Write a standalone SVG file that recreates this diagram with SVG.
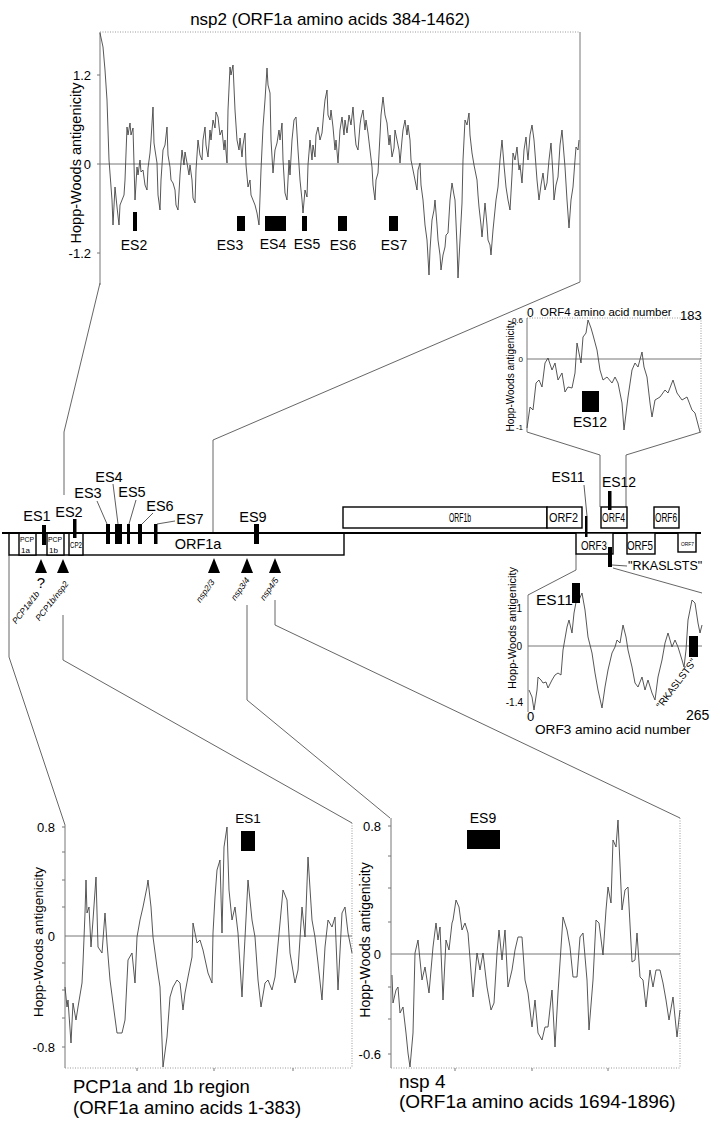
<svg xmlns="http://www.w3.org/2000/svg" width="723" height="1125" viewBox="0 0 723 1125">
<style>
.t{font-family:"Liberation Sans",Arial,sans-serif;fill:#000}
.ti{font-family:"Liberation Sans",Arial,sans-serif;font-style:italic;fill:#000;font-size:8.5px}
.curve{fill:none;stroke:#444;stroke-width:0.9;stroke-linejoin:round}
.axis{fill:none;stroke:#777;stroke-width:1}
.dot{fill:none;stroke:#999;stroke-width:1;stroke-dasharray:1 1.5}
.conn{fill:none;stroke:#555;stroke-width:0.9}
.box{fill:#fff;stroke:#000;stroke-width:1.4}
.bar{fill:#000}
.main{stroke:#000;stroke-width:2;fill:none}
.lead{stroke:#333;stroke-width:0.8;fill:none}
</style>
<rect width="723" height="1125" fill="#fff"/>

<g id="connectors">
  <polyline class="conn" points="100,283 64,432 64,495"/>
  <polyline class="conn" points="580,282 213,440 213,533"/>
  <polyline class="conn" points="527,432 600,455 600,507"/>
  <polyline class="conn" points="701,432 626,455 626,507"/>
  <polyline class="conn" points="576,554 576,570 528,595"/>
  <polyline class="conn" points="613,568 702,593"/>
  <polyline class="conn" points="9,555 9,657 65,825"/>
  <polyline class="conn" points="63,615 63,660 352,823"/>
  <polyline class="conn" points="247,605 247,700 390,818"/>
  <polyline class="conn" points="275,600 275,625 680,818"/>
</g>

<g id="plot-nsp2">
  <text class="t" x="330" y="25" font-size="17" text-anchor="middle">nsp2 (ORF1a amino acids 384-1462)</text>
  <line class="dot" x1="100" y1="32" x2="580" y2="32"/>
  <line class="axis" x1="580" y1="32" x2="580" y2="282"/>
  <line class="axis" x1="100" y1="32" x2="100" y2="285"/>
  <line class="axis" x1="100" y1="164" x2="580" y2="164"/>
  <path class="axis" d="M97,75H100M97,164H100M97,253H100"/>
  <text class="t" x="91" y="80" font-size="13" text-anchor="end">1.2</text>
  <text class="t" x="91" y="169" font-size="13" text-anchor="end">0</text>
  <text class="t" x="91" y="258" font-size="13" text-anchor="end">-1.2</text>
  <text class="t" font-size="14.5" text-anchor="middle" transform="translate(81,163) rotate(-90)">Hopp-Woods antigenicity</text>
  <polyline class="curve" points="100,33 103,47 105,70 107,100 109,160 112,200 113,225 115,187 117,207 119,225 120,205 122,200 124,195 125,180 127,127 128,135 130,123 131,135 133,128 135,200 137,167 138,175 140,160 141,172 143,170 145,185 147,190 148,168 150,153 151,140 153,107 154,143 155,150 157,163 158,195 160,210 161,180 163,150 165,145 167,127 168,155 170,167 171,180 173,183 175,190 176,205 178,210 180,175 182,150 184,165 185,152 187,163 189,175 190,165 192,180 193,198 195,203 196,170 198,140 200,155 202,160 203,140 205,127 206,145 208,157 210,130 211,140 213,120 215,128 216,112 218,117 220,135 222,130 224,150 225,140 227,163 228,110 230,67 231,75 233,65 235,110 237,140 239,150 240,138 242,157 243,145 245,133 246,165 248,187 250,180 251,195 253,200 255,205 257,213 259,225 261,170 263,127 265,100 267,68 268,85 270,93 271,140 273,173 275,150 277,143 279,130 280,140 282,123 283,160 285,193 287,200 289,160 290,175 292,140 294,120 296,117 298,150 300,180 302,200 303,213 305,190 307,197 308,165 310,140 312,160 313,145 315,157 316,135 318,127 320,140 322,133 324,110 325,100 327,90 328,115 330,120 331,110 333,127 335,150 336,140 338,163 340,130 342,117 344,135 345,120 347,133 349,115 351,125 353,107 355,135 356,145 358,150 360,125 361,118 363,110 365,130 366,120 368,133 370,150 372,167 373,185 375,200 376,180 378,173 380,135 381,115 383,97 385,115 387,123 389,145 390,135 392,157 394,148 395,130 397,140 399,150 400,163 402,140 403,130 405,120 407,135 408,125 410,140 411,160 413,170 415,180 417,190 418,170 420,163 421,185 423,200 425,225 427,240 429,275 430,250 432,220 434,210 435,200 437,225 438,240 440,255 441,270 443,255 445,247 446,235 448,233 450,200 452,183 454,195 455,200 457,245 458,278 460,240 462,203 463,160 465,120 467,125 469,113 470,135 472,153 474,165 477,180 478,195 479,207 481,225 482,237 484,215 485,203 487,225 488,240 490,245 491,255 493,230 494,220 496,200 498,187 500,160 502,140 504,165 506,187 508,200 510,210 512,175 513,153 515,160 517,147 519,170 520,165 522,183 524,150 526,137 527,150 528,160 530,135 532,125 534,140 535,153 537,180 539,200 541,185 543,173 545,190 547,183 549,160 551,143 553,175 554,200 556,185 558,177 560,145 562,130 564,155 565,167 567,200 569,228 571,200 573,187 575,160 576,147 578,150 579,140"/>
  <rect class="bar" x="133" y="212" width="4" height="19"/>
  <rect class="bar" x="237" y="216" width="8" height="15"/>
  <rect class="bar" x="265" y="216" width="21" height="15"/>
  <rect class="bar" x="302" y="216" width="5" height="15"/>
  <rect class="bar" x="338" y="216" width="9" height="15"/>
  <rect class="bar" x="389" y="216" width="9" height="15"/>
  <text class="t" x="134" y="250" font-size="14" text-anchor="middle">ES2</text>
  <text class="t" x="230" y="250" font-size="14" text-anchor="middle">ES3</text>
  <text class="t" x="273" y="249" font-size="14" text-anchor="middle">ES4</text>
  <text class="t" x="307" y="249" font-size="14" text-anchor="middle">ES5</text>
  <text class="t" x="343" y="250" font-size="14" text-anchor="middle">ES6</text>
  <text class="t" x="394" y="250" font-size="14" text-anchor="middle">ES7</text>
</g>

<g id="plot-orf4">
  <line class="dot" x1="527" y1="318" x2="701" y2="318"/>
  <line class="dot" x1="701" y1="318" x2="701" y2="432"/>
  <line class="axis" x1="527" y1="318" x2="527" y2="432"/>
  <line class="axis" x1="527" y1="359" x2="701" y2="359"/>
  <text class="t" x="527" y="317" font-size="12">0</text>
  <text class="t" x="540" y="316" font-size="11.5">ORF4 amino acid number</text>
  <text class="t" x="680" y="320" font-size="13">183</text>
  <text class="t" x="523" y="323" font-size="8" text-anchor="end">0.6</text>
  <text class="t" x="523" y="362" font-size="8" text-anchor="end">0</text>
  <text class="t" x="523" y="430" font-size="8" text-anchor="end">-1</text>
  <text class="t" font-size="10" text-anchor="middle" transform="translate(514,376) rotate(-90)">Hopp-Woods antigenicity</text>
  <polyline class="curve" points="527,428 530,407 533,410 536,383 539,380 542,387 545,363 548,358 552,370 555,363 558,380 562,373 565,392 568,387 572,388 575,373 577,343 581,363 583,337 586,333 588,320 591,328 593,335 597,350 600,370 603,380 607,377 612,383 615,377 618,383 622,403 624,430 628,397 632,370 635,363 638,367 642,352 644,367 647,377 650,403 652,417 655,400 660,397 665,390 668,393 673,380 677,393 682,400 687,397 692,410 695,413 700,432"/>
  <rect class="bar" x="582" y="391" width="17" height="21"/>
  <text class="t" x="590" y="427" font-size="14" text-anchor="middle">ES12</text>
</g>

<g id="genome">
  <line class="main" x1="2" y1="533" x2="701" y2="533"/>
  <rect class="box" x="9" y="533" width="335" height="22"/>
  <rect class="box" x="19" y="533" width="17" height="22" stroke-width="1"/>
  <rect class="box" x="47" y="533" width="17" height="22" stroke-width="1"/>
  <rect class="box" x="69" y="533" width="14" height="22" stroke-width="1"/>
  <text class="t" x="20" y="542" font-size="8" textLength="14" lengthAdjust="spacingAndGlyphs">PCP</text>
  <text class="t" x="21" y="553" font-size="8">1a</text>
  <text class="t" x="48" y="542" font-size="8" textLength="14" lengthAdjust="spacingAndGlyphs">PCP</text>
  <text class="t" x="49" y="553" font-size="8">1b</text>
  <text class="t" x="70" y="548" font-size="9" textLength="12" lengthAdjust="spacingAndGlyphs">CP2</text>
  <text class="t" x="198" y="549" font-size="14.5" text-anchor="middle">ORF1a</text>
  <line class="main" x1="2" y1="533" x2="701" y2="533"/>

  <rect class="box" x="343" y="507" width="204" height="21"/>
  <text class="t" x="449" y="522" font-size="13" textLength="22" lengthAdjust="spacingAndGlyphs">ORF1b</text>
  <rect class="box" x="547" y="507" width="35" height="21"/>
  <text class="t" x="549" y="522" font-size="13" textLength="29" lengthAdjust="spacingAndGlyphs">ORF2</text>
  <rect class="box" x="601" y="507" width="26" height="21"/>
  <text class="t" x="602" y="522" font-size="13" textLength="23" lengthAdjust="spacingAndGlyphs">ORF4</text>
  <rect class="box" x="654" y="507" width="25" height="21"/>
  <text class="t" x="655" y="522" font-size="13" textLength="22" lengthAdjust="spacingAndGlyphs">ORF6</text>
  <rect class="box" x="576" y="533" width="37" height="21"/>
  <text class="t" x="581" y="550" font-size="13" textLength="26" lengthAdjust="spacingAndGlyphs">ORF3</text>
  <rect class="box" x="627" y="533" width="28" height="21"/>
  <text class="t" x="627" y="550" font-size="13" textLength="26" lengthAdjust="spacingAndGlyphs">ORF5</text>
  <rect class="box" x="678" y="533" width="18" height="19" stroke-width="1"/>
  <text class="t" x="681" y="546" font-size="6" textLength="13" lengthAdjust="spacingAndGlyphs">ORF7</text>

  <rect class="bar" x="42" y="525" width="4" height="20"/>
  <rect class="bar" x="73" y="519" width="3.5" height="19"/>
  <rect class="bar" x="106" y="524" width="4" height="20"/>
  <rect class="bar" x="115" y="524" width="7" height="20"/>
  <rect class="bar" x="127" y="524" width="3" height="20"/>
  <rect class="bar" x="138" y="524" width="4" height="20"/>
  <rect class="bar" x="154" y="524" width="3.5" height="20"/>
  <rect class="bar" x="254" y="524" width="5" height="20"/>
  <rect class="bar" x="585" y="516" width="2.5" height="21"/>
  <rect class="bar" x="608" y="491" width="3.5" height="19"/>
  <rect class="bar" x="608" y="547" width="4" height="20"/>

  <text class="t" x="37" y="521" font-size="14.5" text-anchor="middle">ES1</text>
  <text class="t" x="69" y="517" font-size="14.5" text-anchor="middle">ES2</text>
  <text class="t" x="88" y="498" font-size="14.5" text-anchor="middle">ES3</text>
  <text class="t" x="109" y="482" font-size="14.5" text-anchor="middle">ES4</text>
  <text class="t" x="132" y="497" font-size="14.5" text-anchor="middle">ES5</text>
  <text class="t" x="160" y="511" font-size="14.5" text-anchor="middle">ES6</text>
  <text class="t" x="190" y="524" font-size="14.5" text-anchor="middle">ES7</text>
  <text class="t" x="253" y="522" font-size="14.5" text-anchor="middle">ES9</text>
  <text class="t" x="568" y="482" font-size="14" text-anchor="middle">ES11</text>
  <text class="t" x="619" y="487" font-size="14" text-anchor="middle">ES12</text>
  <text class="t" x="628" y="570" font-size="12.5">"RKASLSTS"</text>

  <line class="lead" x1="97" y1="501" x2="107" y2="524"/>
  <line class="lead" x1="113" y1="484" x2="118" y2="524"/>
  <line class="lead" x1="136" y1="500" x2="129" y2="524"/>
  <line class="lead" x1="153" y1="513" x2="142" y2="524"/>
  <line class="lead" x1="157" y1="524" x2="175" y2="521"/>
  <line class="lead" x1="584" y1="485" x2="587" y2="516"/>
  <line class="lead" x1="612" y1="565" x2="627" y2="566"/>

  <polygon class="bar" points="41,559 35,573 47,573"/>
  <polygon class="bar" points="63,559 57,573 69,573"/>
  <polygon class="bar" points="214,558 208,573 220,573"/>
  <polygon class="bar" points="247,558 241,573 253,573"/>
  <polygon class="bar" points="275,558 269,573 281,573"/>
  <text class="t" x="41" y="588" font-size="15" text-anchor="middle">?</text>
  <text class="ti" text-anchor="end" transform="translate(40,594) rotate(-52)">PCP1a/1b</text>
  <text class="ti" text-anchor="end" transform="translate(69,584) rotate(-52)">PCP1b/nsp2</text>
  <text class="ti" text-anchor="end" transform="translate(215,582) rotate(-55)">nsp2/3</text>
  <text class="ti" text-anchor="end" transform="translate(250,580) rotate(-55)">nsp3/4</text>
  <text class="ti" text-anchor="end" transform="translate(279,580) rotate(-55)">nsp4/5</text>
</g>

<g id="plot-orf3">
  <line class="axis" x1="528" y1="595" x2="528" y2="712"/>
  <line class="axis" x1="528" y1="646" x2="702" y2="646"/>
  <text class="t" x="522" y="612" font-size="10" text-anchor="end">1</text>
  <text class="t" x="522" y="650" font-size="10" text-anchor="end">0</text>
  <text class="t" x="523" y="706" font-size="10" text-anchor="end">-1.4</text>
  <text class="t" font-size="11" text-anchor="middle" transform="translate(516,628) rotate(-90)">Hopp-Woods antigenicity</text>
  <polyline class="curve" points="529,690 532,697 534,710 537,690 538,677 541,680 543,683 546,682 548,688 552,680 555,675 558,673 561,675 563,650 567,627 569,620 572,633 574,613 577,597 579,600 582,593 585,610 588,637 592,653 595,673 598,690 602,708 605,687 608,670 612,653 615,647 617,640 620,643 623,625 626,637 628,650 632,667 635,683 638,687 642,677 645,690 648,680 652,693 655,700 658,677 662,660 665,643 668,633 672,647 675,640 678,647 682,660 684,667 686,650 688,620 692,600 695,603 698,623 700,633 702,625"/>
  <rect class="bar" x="572" y="583" width="8" height="20"/>
  <rect class="bar" x="689" y="636" width="9" height="21"/>
  <text class="t" x="536" y="605" font-size="15.5">ES11</text>
  <text class="t" font-size="10" text-anchor="end" transform="translate(697,662) rotate(-53)">"RKASLSTS"</text>
  <text class="t" x="527" y="721" font-size="13">0</text>
  <text class="t" x="686" y="720" font-size="14">265</text>
  <text class="t" x="535" y="734" font-size="13.6">ORF3 amino acid number</text>
</g>

<g id="plot-pcp">
  <line class="axis" x1="65" y1="825" x2="65" y2="1068"/>
  <line class="dot" x1="65" y1="1068" x2="352" y2="1068"/>
  <line class="dot" x1="352" y1="823" x2="352" y2="1068"/>
  <line class="axis" x1="65" y1="936" x2="352" y2="936"/>
  <path class="axis" d="M62,827H65M62,852H65M62,880H65M62,907H65M62,963H65M62,990H65M62,1018H65M62,1047H65M137,1068V1071M214,1068V1071M293,1068V1071"/>
  <text class="t" x="55" y="832" font-size="13" text-anchor="end">0.8</text>
  <text class="t" x="55" y="941" font-size="13" text-anchor="end">0</text>
  <text class="t" x="55" y="1052" font-size="13" text-anchor="end">-0.8</text>
  <text class="t" font-size="13.5" text-anchor="middle" transform="translate(43,942) rotate(-90)">Hopp-Woods antigenicity</text>
  <polyline class="curve" points="65,987 67,1007 68,1000 71,1043 73,1003 76,1020 78,1007 82,983 83,963 85,913 86,880 87,913 89,907 91,947 93,920 96,877 98,947 102,953 105,913 107,943 110,980 113,1003 117,1033 122,1033 125,1020 128,960 132,953 135,983 137,937 140,920 143,907 147,887 148,880 151,907 153,937 157,967 160,987 163,1067 167,1037 170,997 173,987 177,980 180,983 183,1010 185,993 188,977 192,957 193,923 197,943 200,940 203,950 208,973 212,983 213,933 215,897 217,870 220,860 222,933 224,847 227,827 229,890 232,920 235,907 238,933 242,997 244,957 248,880 252,920 255,937 258,980 261,1007 265,983 268,980 272,990 275,977 280,923 283,890 287,900 290,953 295,983 298,970 302,907 305,937 308,857 312,920 315,937 318,963 322,1000 325,947 328,920 332,927 335,917 338,990 342,913 345,907 348,933 352,953"/>
  <rect class="bar" x="241" y="831" width="14" height="20"/>
  <text class="t" x="248" y="823" font-size="13.5" text-anchor="middle">ES1</text>
  <text class="t" x="73" y="1093" font-size="18.5">PCP1a and 1b region</text>
  <text class="t" x="73" y="1114" font-size="18.5">(ORF1a amino acids 1-383)</text>
</g>

<g id="plot-nsp4">
  <line class="axis" x1="391" y1="818" x2="391" y2="1068"/>
  <line class="dot" x1="391" y1="1068" x2="680" y2="1068"/>
  <line class="dot" x1="680" y1="818" x2="680" y2="1068"/>
  <line class="axis" x1="391" y1="954" x2="680" y2="954"/>
  <path class="axis" d="M388,826H391M388,856H391M388,888H391M388,922H391M388,987H391M388,1019H391M388,1054H391M455,1068V1071M532,1068V1071M608,1068V1071"/>
  <text class="t" x="381" y="831" font-size="13" text-anchor="end">0.8</text>
  <text class="t" x="381" y="959" font-size="13" text-anchor="end">0</text>
  <text class="t" x="381" y="1059" font-size="13" text-anchor="end">-0.6</text>
  <text class="t" font-size="14" text-anchor="middle" transform="translate(370,940) rotate(-90)">Hopp-Woods antigenicity</text>
  <polyline class="curve" points="392,975 393,1003 396,990 398,987 400,1013 403,1007 406,1033 408,1053 410,1067 413,1033 415,953 418,940 422,980 425,967 429,993 433,947 436,923 438,940 440,927 443,1000 446,940 449,950 452,923 453,920 456,900 459,907 462,930 465,923 468,933 473,997 477,953 480,970 483,953 487,987 491,1010 494,1003 497,953 499,930 502,960 505,930 508,987 512,970 515,950 518,937 522,937 525,980 528,993 532,1027 535,1000 538,1033 542,1040 545,1027 548,1027 552,990 555,1047 558,993 563,917 567,930 570,947 573,977 577,977 580,937 583,933 587,980 589,1030 593,980 596,920 599,923 603,955 606,910 608,887 611,903 613,840 616,847 618,820 622,910 625,890 628,887 632,962 635,960 637,933 640,977 643,980 646,1007 650,970 653,987 656,970 660,970 663,983 666,1000 669,1020 673,997 677,1037 680,1010"/>
  <rect class="bar" x="467" y="830" width="33" height="19"/>
  <text class="t" x="483" y="823" font-size="14" text-anchor="middle">ES9</text>
  <text class="t" x="399" y="1088" font-size="19">nsp 4</text>
  <text class="t" x="399" y="1108" font-size="19">(ORF1a amino acids 1694-1896)</text>
</g>
</svg>
